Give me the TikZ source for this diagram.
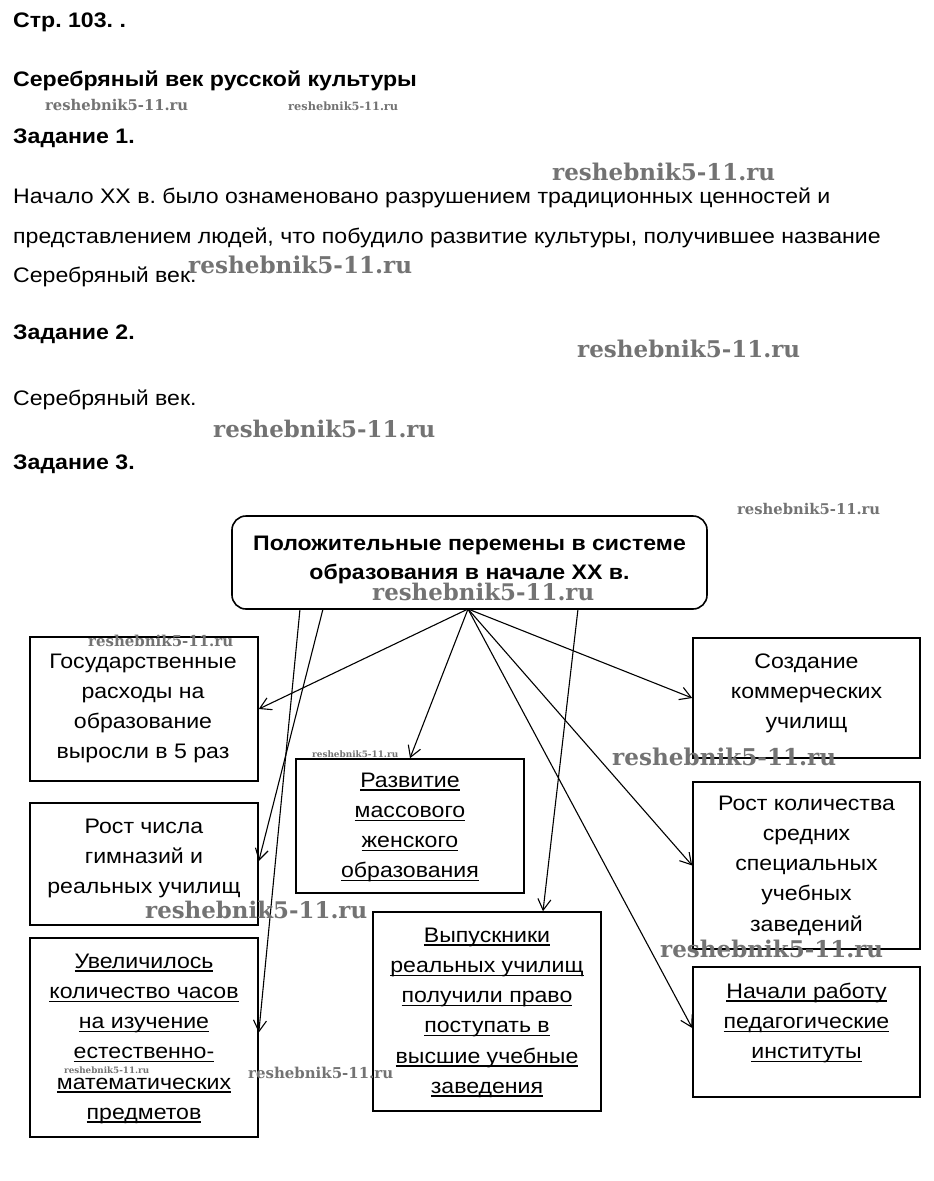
\documentclass[tikz,border=0pt]{standalone}
\usepackage{fontspec}
\setmainfont{Liberation Sans}[FakeStretch=1.1]
\newfontfamily\wmfont{DejaVu Serif}
\usetikzlibrary{arrows.meta,calc}
\frenchspacing
\newcommand\ulx[1]{\setbox0\hbox{#1}\rlap{\rule[-3.5pt]{\wd0}{1.3pt}}\box0}
\newcommand\fs{\rule{0pt}{17pt}}
\newcommand\wm[4]{\node[wmk] (#1) at (#2,#3) {\resizebox{#4pt}{!}{reshebnik5-11.ru}};}
\begin{document}
\begin{tikzpicture}[x=1pt,y=-1pt,
 box/.style={draw, line width=1.6pt, inner sep=0pt, rectangle},
 btxt/.style={anchor=north, align=center, inner sep=0pt, font=\fontsize{21}{30.2}\selectfont},
 mtxt/.style={anchor=north, align=center, inner sep=0pt, font=\bfseries\fontsize{21}{29.5}\selectfont},
 para/.style={anchor=base west, inner sep=0pt, font=\fontsize{21}{25}\selectfont},
 head/.style={anchor=base west, inner sep=0pt, font=\bfseries\fontsize{21}{25}\selectfont},
 arr/.style={-{Straight Barb[length=11pt,width=13pt]}, line width=1.1pt},
 wmk/.style={anchor=base west, inner sep=0pt, text=black!55, font=\wmfont\bfseries}]
\fill[white] (0,0) rectangle (934,1181);
\useasboundingbox (0,0) rectangle (934,1181);

% texts
\node[head] (h1) at (13,27) {Стр. 103. .};
\node[head] (h2) at (13,86) {Серебряный век русской культуры};
\node[head] (h3) at (13,143) {Задание 1.};
\node[para] (p1) at (13,203) {Начало XX в. было ознаменовано разрушением традиционных ценностей и};
\node[para] (p2) at (13,243) {представлением людей, что побудило развитие культуры, получившее название};
\node[para] (p3) at (13,282) {Серебряный век.};
\node[head] (h4) at (13,339) {Задание 2.};
\node[para] (p4) at (13,405) {Серебряный век.};
\node[head] (h5) at (13,469) {Задание 3.};

% boxes
\node[box, rounded corners=14pt, minimum width=475pt, minimum height=93pt] (main) at (469.5,562.5) {};
\node[box, minimum width=228pt, minimum height=144pt] (gos) at (144,709) {};
\node[box, minimum width=228pt, minimum height=122pt] (rost) at (144,864) {};
\node[box, minimum width=228pt, minimum height=199pt] (uvel) at (144,1037.5) {};
\node[box, minimum width=228pt, minimum height=134pt] (razv) at (410,826) {};
\node[box, minimum width=228pt, minimum height=199pt] (vyp) at (487,1011.5) {};
\node[box, minimum width=227pt, minimum height=120pt] (sozd) at (806.5,698) {};
\node[box, minimum width=227pt, minimum height=167pt] (rkol) at (806.5,865.5) {};
\node[box, minimum width=227pt, minimum height=130pt] (nach) at (806.5,1032) {};

% box texts
\node[mtxt] (mainT) at (469.5,533) {\fs Положительные перемены в системе\\образования в начале XX в.};
\node[btxt] (gosT) at (143,651) {\fs Государственные\\расходы на\\образование\\выросли в 5 раз};
\node[btxt] (rostT) at (144,816) {\fs Рост числа\\гимназий и\\реальных училищ};
\node[btxt] (uvelT) at (144,951) {\fs\ulx{Увеличилось}\\\ulx{количество часов}\\\ulx{на изучение}\\\ulx{естественно-}\\\ulx{математических}\\\ulx{предметов}};
\node[btxt] (razvT) at (410,770) {\fs\ulx{Развитие}\\\ulx{массового}\\\ulx{женского}\\\ulx{образования}};
\node[btxt] (vypT) at (487,925) {\fs\ulx{Выпускники}\\\ulx{реальных училищ}\\\ulx{получили право}\\\ulx{поступать в}\\\ulx{высшие учебные}\\\ulx{заведения}};
\node[btxt] (sozdT) at (806.5,651) {\fs Создание\\коммерческих\\училищ};
\node[btxt] (rkolT) at (806.5,793) {\fs Рост количества\\средних\\специальных\\учебных\\заведений};
\node[btxt] (nachT) at (806.5,981) {\fs\ulx{Начали работу}\\\ulx{педагогические}\\\ulx{институты}};

% connectors
\coordinate (hub) at (468,609);
\coordinate (s1) at (300,609);
\coordinate (s2) at (323,609);
\coordinate (s3) at (578,609);
\draw[arr] (hub) -- (gos.east);
\draw[arr] (hub) -- (razv.north);
\draw[arr] (hub) -- (sozd.west);
\draw[arr] (hub) -- (rkol.west);
\draw[arr] (hub) -- ($(nach.west)+(0,-4)$);
\draw[arr] (s2) -- ($(rost.east)+(0,-3)$);
\draw[arr] (s1) -- ($(uvel.east)+(0,-5)$);
\draw[arr] (s3) -- ($(vyp.north)+(56,0)$);

% watermarks
\wm{w1}{45}{110}{143}
\wm{w2}{288}{110}{110}
\wm{w3}{552}{180}{223}
\wm{w4}{188}{273}{224}
\wm{w5}{577}{357}{223}
\wm{w6}{213}{437}{222}
\wm{w7}{737}{514}{143}
\wm{w8}{372}{600}{222}
\wm{w9}{88}{646}{145}
\wm{w10}{312}{757}{86}
\wm{w11}{612}{765}{224}
\wm{w12}{145}{918}{222}
\wm{w13}{660}{957}{223}
\wm{w14}{64}{1073}{85}
\wm{w15}{248}{1078}{145}
\end{tikzpicture}
\end{document}
